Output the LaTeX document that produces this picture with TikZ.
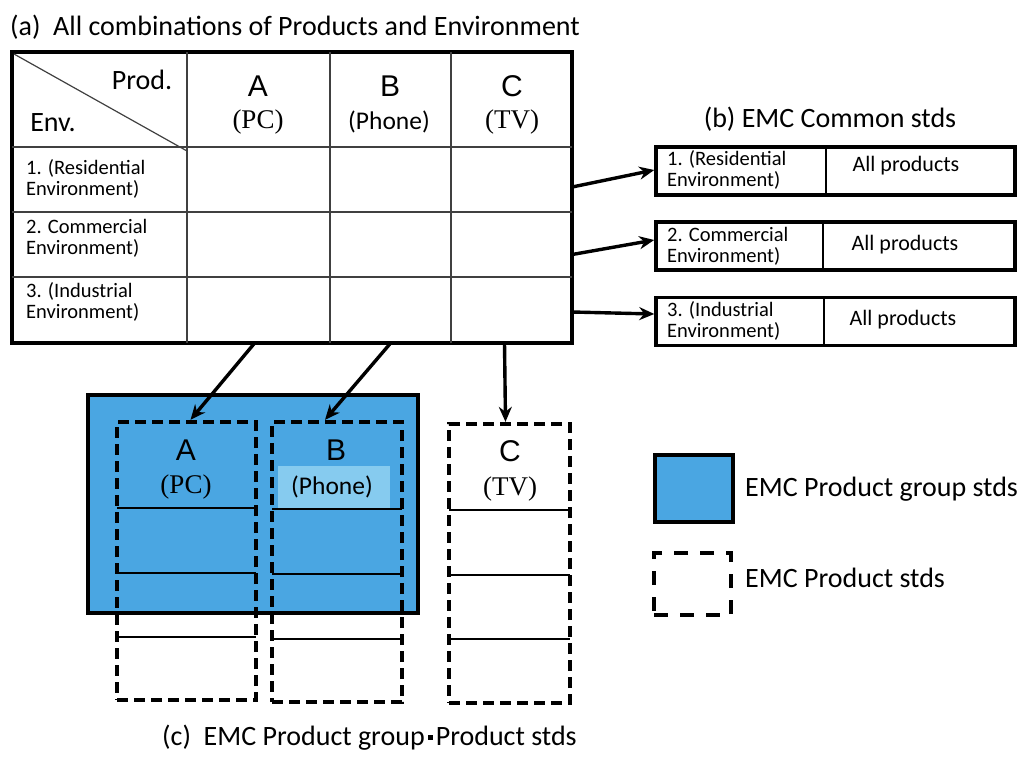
\documentclass[tikz,border=0pt]{standalone}
\usepackage{fontspec}
\setmainfont{Carlito}
\newfontfamily\serifc{Liberation Serif}
\newfontfamily\letterf{Liberation Sans}
\usetikzlibrary{arrows.meta}
\definecolor{grpblue}{RGB}{74,166,226}
\definecolor{hiblue}{RGB}{134,203,239}
\tikzset{
  frame/.style={draw=black, line width=4.5pt, inner sep=0pt},
  grid/.style={draw=black!75, line width=1.2pt},
  sbox/.style={draw=black, line width=3.5pt, inner sep=0pt, minimum width=359, minimum height=48},
  dbox/.style={draw=black, line width=4.3pt, dash pattern=on 11pt off 6pt, inner sep=0pt},
  arr/.style={draw=black, line width=3.4pt, -{Stealth[length=15pt,width=13pt]}},
  span/.style={inner sep=0pt, draw=none},
  rowlab/.style={font=\fontsize{20.5}{21}\selectfont, align=left, anchor=west, inner sep=0pt},
  big/.style={font=\letterf\fontsize{30}{30}\selectfont, inner sep=0pt},
  sub/.style={font=\serifc\fontsize{27}{27}\selectfont, inner sep=0pt},
  subs/.style={font=\fontsize{25.5}{25.5}\selectfont, inner sep=0pt},
  head/.style={font=\fontsize{28}{28}\selectfont, inner sep=0pt},
  allp/.style={font=\fontsize{22}{22}\selectfont, inner sep=0pt}
}
\newcommand{\sqdot}{\hspace{3pt}\raisebox{0.45ex}{\rule{0.18em}{0.18em}}\hspace{3pt}}
\begin{document}
\begin{tikzpicture}[x=1pt,y=-1pt]
\useasboundingbox (0,0) rectangle (1024,779);

% ---------- (a) matrix of products and environments ----------
\node[head, anchor=west] (ttla) at (10,27) {(a)\ \ All combinations of Products and Environment};

\node[frame, minimum width=560, minimum height=291] (tab) at (292,197.5) {};
\draw[grid] (187,52) -- (187,343) (330,52) -- (330,343) (451,52) -- (451,343);
\draw[grid] (12,147) -- (572,147) (12,212) -- (572,212) (12,277) -- (572,277);
\draw[grid] (14,54) -- (187,151);

% column and row spans used as connector ends
\node[span, minimum width=143, minimum height=291] (colA) at (258.5,197.5) {};
\node[span, minimum width=121, minimum height=291] (colB) at (390.5,197.5) {};
\node[span, minimum width=121, minimum height=291] (colC) at (511.5,197.5) {};
\node[span, minimum width=560, minimum height=65] (row1) at (292,179.5) {};
\node[span, minimum width=560, minimum height=65] (row2) at (292,244.5) {};
\node[span, minimum width=560, minimum height=66] (row3) at (292,310) {};

\node[font=\fontsize{28}{28}\selectfont, inner sep=0pt] (prod) at (142,80) {Prod.};
\node[font=\fontsize{28}{28}\selectfont, inner sep=0pt] (env) at (53,123) {Env.};
\node[big] (hA) at (258,86) {A};
\node[sub] (hPC) at (258,122) {(PC)};
\node[big] (hB) at (390,86) {B};
\node[subs] (hPh) at (389,122) {(Phone)};
\node[big] (hC) at (512,86) {C};
\node[sub] (hTV) at (512,122) {(TV)};

\node[rowlab] (l1) at (26,179) {1. (Residential\\Environment)};
\node[rowlab] (l2) at (26,238) {2. Commercial\\Environment)};
\node[rowlab] (l3) at (26,302) {3. (Industrial\\Environment)};

% ---------- (b) common standards ----------
\node[head] (ttlb) at (830,119) {(b) EMC Common stds};
\node[sbox] (b1) at (835.5,171) {};
\node[sbox] (b2) at (835.5,246) {};
\node[sbox] (b3) at (835.5,321.5) {};
\draw[line width=1.2pt] (826,147) -- (826,195) (823,222) -- (823,270) (824,297) -- (824,346);
\node[rowlab] (b1l) at (667,170) {1. (Residential\\Environment)};
\node[rowlab] (b2l) at (667,246) {2. Commercial\\Environment)};
\node[rowlab] (b3l) at (667,321) {3. (Industrial\\Environment)};
\node[allp] (b1r) at (906,166) {All products};
\node[allp] (b2r) at (905,245) {All products};
\node[allp] (b3r) at (903,320) {All products};

\draw[arr] ([yshift=-7.5pt]row1.east) -- ([yshift=1pt]b1.west);
\draw[arr] ([yshift=-10pt]row2.east) -- ([yshift=6pt]b2.west);
\draw[arr] ([yshift=-2pt]row3.east) -- ([yshift=7.5pt]b3.west);

% ---------- (c) product group and product standards ----------
\node[frame, fill=grpblue, minimum width=330, minimum height=218] (grp) at (253,504) {};
\node[inner sep=0pt, fill=hiblue, minimum width=112, minimum height=42] (hil) at (334,487) {};

\node[dbox, minimum width=139, minimum height=278] (pa) at (186.5,561) {};
\node[dbox, minimum width=130, minimum height=280] (pb) at (337,562) {};
\node[dbox, minimum width=121, minimum height=279] (pc) at (509.5,563.5) {};
\draw[line width=1.2pt] (117,508) -- (256,508) (117,573) -- (256,573) (117,637) -- (256,637);
\draw[line width=1.2pt] (272,509) -- (402,509) (272,574) -- (402,574) (272,639) -- (402,639);
\draw[line width=1.2pt] (449,510) -- (570,510) (449,575) -- (570,575) (449,639) -- (570,639);

\node[big] (pA) at (186,450) {A};
\node[sub] (pPC) at (186,487) {(PC)};
\node[big] (pB) at (336,450) {B};
\node[subs] (pPh) at (332,487) {(Phone)};
\node[big] (pC) at (510,451) {C};
\node[sub] (pTV) at (510,489) {(TV)};

\draw[arr] ([xshift=-4pt]colA.south) -- ([xshift=4pt]pa.north);
\draw[arr] (colB.south) -- ([xshift=-12pt]pb.north);
\draw[arr] ([xshift=-7pt]colC.south) -- ([xshift=-4pt]pc.north);

\node[head, anchor=west] (ttlc) at (162,738) {(c)\ \ EMC Product group\sqdot Product stds};

% ---------- legend ----------
\node[frame, fill=grpblue, minimum width=78, minimum height=67] (lg1) at (694,488.5) {};
\node[head, anchor=west] (lg1t) at (745,489) {EMC Product group stds};
\node[dbox, dash pattern=on 14pt off 12pt, minimum width=77, minimum height=62] (lg2) at (692.5,584) {};
\node[head, anchor=west] (lg2t) at (745,578) {EMC Product stds};
\end{tikzpicture}
\end{document}
